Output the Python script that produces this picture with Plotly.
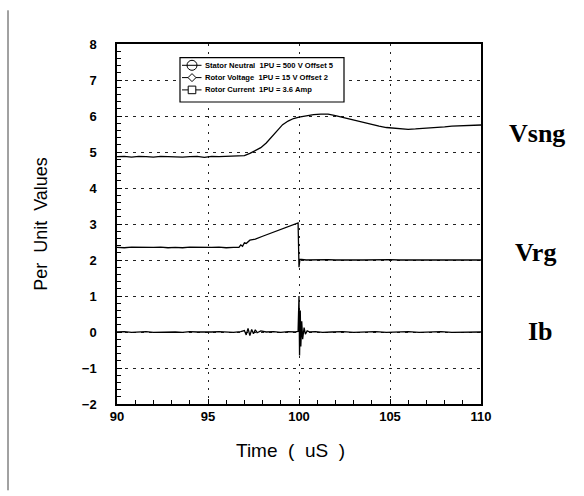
import plotly.graph_objects as go

# ---------------- data ----------------
vsng_t = [90.0, 90.4, 90.8, 91.2, 91.6, 92.0, 92.4, 92.8, 93.2, 93.6, 94.0, 94.4, 94.8, 95.2, 95.6,
          96.0, 96.4, 96.8, 97.0, 97.3, 97.6, 97.9, 98.2, 98.5, 98.8, 99.1, 99.4, 99.7, 100.0,
          100.4, 100.8, 101.2, 101.6, 102.0, 102.4, 102.8, 103.2, 103.6, 104.0, 104.4, 104.8,
          105.2, 105.6, 106.0, 106.4, 106.8, 107.2, 107.6, 108.0, 108.4, 108.8, 109.2, 109.6, 110.0]
vsng_v = [4.87, 4.88, 4.86, 4.88, 4.87, 4.86, 4.88, 4.87, 4.88, 4.86, 4.87, 4.88, 4.85, 4.88, 4.87,
          4.88, 4.87, 4.88, 4.90, 4.96, 5.03, 5.12, 5.25, 5.42, 5.60, 5.76, 5.86, 5.93, 5.97,
          6.01, 6.04, 6.05, 6.05, 6.01, 5.96, 5.90, 5.85, 5.80, 5.76, 5.72, 5.68,
          5.66, 5.64, 5.63, 5.64, 5.65, 5.67, 5.69, 5.70, 5.72, 5.73, 5.74, 5.74, 5.75]

vrg_t = [90.0, 90.4, 90.8, 91.2, 91.6, 92.0, 92.4, 92.8, 93.2, 93.6, 94.0, 94.4, 94.8, 95.2, 95.6,
         96.0, 96.4, 96.7, 96.8, 96.9, 97.0, 97.1, 97.3, 97.6, 98.0, 98.4, 98.8, 99.2, 99.6, 99.95,
         100.0, 100.05, 100.4, 100.8, 101.2, 101.6, 102.0, 102.5, 103.0, 103.5, 104.0, 104.5, 105.0,
         105.5, 106.0, 106.5, 107.0, 107.5, 108.0, 108.5, 109.0, 109.5, 110.0]
vrg_v = [2.35, 2.34, 2.36, 2.35, 2.34, 2.35, 2.36, 2.34, 2.35, 2.34, 2.36, 2.35, 2.34, 2.35, 2.36,
         2.34, 2.35, 2.35, 2.42, 2.38, 2.48, 2.46, 2.55, 2.58, 2.66, 2.74, 2.82, 2.90, 2.96, 3.03,
         1.80, 2.02, 2.00, 2.01, 2.00, 2.01, 2.00, 2.01, 2.00, 2.00, 2.01, 2.00, 2.01,
         2.00, 2.00, 2.01, 2.00, 2.01, 2.00, 2.00, 2.01, 2.00, 2.00]

ib_t = [90.0, 90.4, 90.8, 91.2, 91.6, 92.0, 92.4, 92.8, 93.2, 93.6, 94.0, 94.4, 94.8, 95.2, 95.6,
        96.0, 96.4, 96.8, 97.0, 97.1, 97.2, 97.3, 97.4, 97.5, 97.6, 97.7, 97.9, 98.2, 98.6, 99.0,
        99.4, 99.8, 99.95, 100.0, 100.03, 100.07, 100.1, 100.15, 100.2, 100.28, 100.35, 100.45,
        100.6, 100.9, 101.3, 101.8, 102.4, 103.0, 103.6, 104.2, 104.8, 105.4, 106.0, 106.6,
        107.2, 107.8, 108.4, 109.0, 109.6, 110.0]
ib_v = [0.00, 0.01, -0.01, 0.00, 0.01, -0.01, 0.00, 0.01, 0.00, -0.01, 0.01, 0.00, -0.01, 0.00, 0.01,
        0.00, -0.01, 0.01, 0.04, -0.08, 0.10, -0.10, 0.07, -0.05, 0.06, -0.02, 0.03, 0.00, 0.01, -0.01,
        0.01, 0.00, 0.02, 1.00, -0.65, 0.60, -0.40, 0.30, -0.20, 0.12, -0.06, 0.03,
        0.00, 0.01, -0.01, 0.00, 0.01, -0.01, 0.00, 0.01, -0.01, 0.00, 0.01, -0.01,
        0.00, 0.01, -0.01, 0.00, 0.01, 0.00]

series_names = ["Stator Neutral", "Rotor Voltage", "Rotor Current"]
legend_texts = [
    "Stator\u00a0Neutral\u00a0 1PU\u00a0=\u00a0500\u00a0V\u00a0Offset\u00a05",
    "Rotor\u00a0Voltage\u00a0 1PU\u00a0=\u00a015\u00a0V\u00a0Offset\u00a02",
    "Rotor\u00a0Current\u00a0 1PU\u00a0=\u00a03.6\u00a0Amp",
]
trace_labels = ["Vsng", "Vrg", "Ib"]
x_ticks = [90, 95, 100, 105, 110]
y_ticks = [-2, -1, 0, 1, 2, 3, 4, 5, 6, 7, 8]

# ---------------- figure ----------------
fig = go.Figure()
for t, v, n in zip([vsng_t, vrg_t, ib_t], [vsng_v, vrg_v, ib_v], series_names):
    fig.add_trace(go.Scatter(x=t, y=v, mode="lines", name=n, showlegend=False,
                             line=dict(color="black", width=1.3)))

W, H = 584, 496
L, R, T, B = 117, 481, 43.7, 403.7


def px_x(px):
    return 90 + (px - L) * 20.0 / (R - L)


def px_y(py):
    return 8 - (py - T) * 10.0 / (B - T)


def paper_x(px):
    return (px - L) / (R - L)


def paper_y(py):
    return (B - py) / (B - T)


shapes = []
shapes.append(dict(type="rect", xref="x", yref="y", x0=px_x(180), x1=px_x(344),
                   y0=px_y(57.3), y1=px_y(101.7), line=dict(color="black", width=1.2),
                   fillcolor="white", layer="above"))
rows = [65.0, 77.3, 89.6]
for i, ry in enumerate(rows):
    shapes.append(dict(type="line", xref="x", yref="y", x0=px_x(182), x1=px_x(201.5),
                       y0=px_y(ry), y1=px_y(ry), line=dict(color="black", width=1), layer="above"))
cx, r = 192, 5
shapes.append(dict(type="circle", xref="x", yref="y", x0=px_x(cx - r), x1=px_x(cx + r),
                   y0=px_y(rows[0] - r), y1=px_y(rows[0] + r),
                   line=dict(color="black", width=1), fillcolor="white", layer="above"))
shapes.append(dict(type="line", xref="x", yref="y", x0=px_x(cx - r), x1=px_x(cx + r),
                   y0=px_y(rows[0]), y1=px_y(rows[0]), line=dict(color="black", width=1), layer="above"))
d = 4
path = "M {} {} L {} {} L {} {} L {} {} Z".format(
    px_x(cx - d), px_y(rows[1]), px_x(cx), px_y(rows[1] - d),
    px_x(cx + d), px_y(rows[1]), px_x(cx), px_y(rows[1] + d))
shapes.append(dict(type="path", xref="x", yref="y", path=path,
                   line=dict(color="black", width=1), fillcolor="white", layer="above"))
s = 3.8
shapes.append(dict(type="rect", xref="x", yref="y", x0=px_x(cx - s), x1=px_x(cx + s),
                   y0=px_y(rows[2] - s), y1=px_y(rows[2] + s),
                   line=dict(color="black", width=1), fillcolor="white", layer="above"))
shapes.append(dict(type="line", xref="paper", yref="paper", x0=paper_x(8), x1=paper_x(8),
                   y0=paper_y(10), y1=paper_y(490), line=dict(color="#444", width=1)))

annotations = []
for txt, ry in zip(legend_texts, rows):
    annotations.append(dict(xref="x", yref="y", x=px_x(203), y=px_y(ry), text=txt,
                            showarrow=False, xanchor="left", yanchor="middle",
                            font=dict(family="Liberation Sans", size=7.6,
                                      color="black", weight="bold")))
for lab, (cxp, cyp) in zip(trace_labels, [(536.5, 133), (535.5, 252.5), (540, 331)]):
    annotations.append(dict(xref="paper", yref="paper", x=paper_x(cxp), y=paper_y(cyp), text=lab,
                            showarrow=False, xanchor="center", yanchor="middle",
                            font=dict(family="Liberation Serif", size=26, color="black", weight="bold")))
annotations.append(dict(xref="paper", yref="paper", x=paper_x(290), y=paper_y(450),
                        text="Time\u00a0 (\u00a0 uS\u00a0 )", showarrow=False,
                        xanchor="center", yanchor="middle",
                        font=dict(family="Liberation Sans", size=19, color="black")))

fig.update_layout(
    width=W, height=H,
    margin=dict(l=L, r=W - R, t=T, b=H - B, pad=0),
    paper_bgcolor="white", plot_bgcolor="white",
    shapes=shapes, annotations=annotations,
    showlegend=False,
    xaxis=dict(range=[90, 110], tickvals=x_ticks, ticks="inside", ticklen=5, tickwidth=1,
               tickcolor="black", showline=True, linecolor="black", linewidth=1.5, mirror=True,
               showgrid=True, gridcolor="#222", gridwidth=1, griddash="2px,6px",
               zeroline=False,
               minor=dict(dtick=1, ticks="inside", ticklen=4, tickcolor="black", showgrid=False),
               tickfont=dict(family="Liberation Sans", size=13, color="black", weight="bold")),
    yaxis=dict(range=[-2, 8], tickvals=y_ticks, ticks="inside", ticklen=5, tickwidth=1,
               tickcolor="black", showline=True, linecolor="black", linewidth=1.5, mirror=True,
               showgrid=True, gridcolor="#222", gridwidth=1, griddash="3px,5px",
               zeroline=False, ticklabelstandoff=16,
               minor=dict(dtick=0.2, ticks="inside", ticklen=4, tickcolor="black", showgrid=False),
               tickfont=dict(family="Liberation Sans", size=13, color="black", weight="bold"),
               title=dict(text="Per\u00a0 Unit\u00a0 Values", standoff=30,
                          font=dict(family="Liberation Sans", size=18, color="black"))),
)

fig.write_html("out.html")
